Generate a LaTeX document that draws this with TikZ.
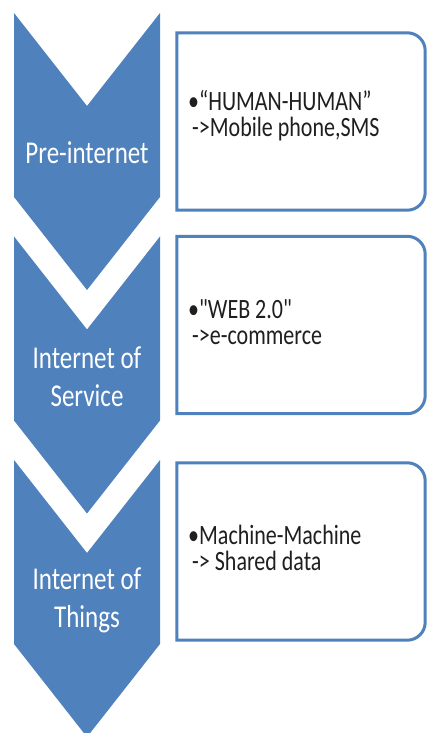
\documentclass[tikz,border=0pt]{standalone}
\usepackage{fontspec}
\usepackage{graphicx}
\newfontfamily\calib{Carlito}
\definecolor{chev}{HTML}{4F81BD}
\begin{document}
\begin{tikzpicture}[x=1pt,y=1pt,
  chevtext/.style={text=white, font=\calib\fontsize{25}{30}\selectfont, align=center, yscale=1.27, inner sep=0pt},
  boxtext/.style={text=black!88, font=\calib\fontsize{22}{20.5}\selectfont, align=left, anchor=west, yscale=1.27, inner sep=0pt},
  boxshape/.style={minimum width=248pt, minimum height=177pt, inner sep=0pt},
  boxline/.style={draw=chev, line width=3pt, fill=white},
  chevfill/.style={fill=chev}]
\useasboundingbox (0,0) rectangle (426,733);
\fill[white] (0,0) rectangle (426,733);

% chevrons
\foreach \T/\n in {720/1, 496.5/2, 273/3}{
  \fill[chevfill] (14,\T) -- (87,\T-93) -- (160,\T) -- (160,\T-184) -- (87,\T-277) -- (14,\T-184) -- cycle;
}
\node[chevtext] (c1) at (87,580) {Pre-internet};
\node[chevtext] (c2) at (87,356.5) {Internet of\\Service};
\node[chevtext] (c3) at (87,133) {Internet of\\Things};

% boxes
\node[boxshape] (b1) at (301,611.5) {};
\node[boxshape] (b2) at (301,408) {};
\node[boxshape] (b3) at (301,181.5) {};
\foreach \b in {b1,b2,b3}{
  \draw[boxline] (\b.north west) -- ([xshift=-18pt]\b.north east)
    arc[start angle=90, end angle=0, radius=18pt]
    -- ([yshift=18pt]\b.south east)
    arc[start angle=0, end angle=-90, radius=18pt]
    -- (\b.south west) -- cycle;
}
\node[boxtext] (t1) at (188,617) {•“HUMAN-HUMAN”\\\hspace{4pt}->Mobile phone,SMS};
\node[boxtext] (t2) at (188,411) {•"WEB 2.0"\\\hspace{4pt}->e-commerce};
\node[boxtext] (t3) at (188,185) {•Machine-Machine\\\hspace{4pt}-> Shared data};
\end{tikzpicture}
\end{document}
